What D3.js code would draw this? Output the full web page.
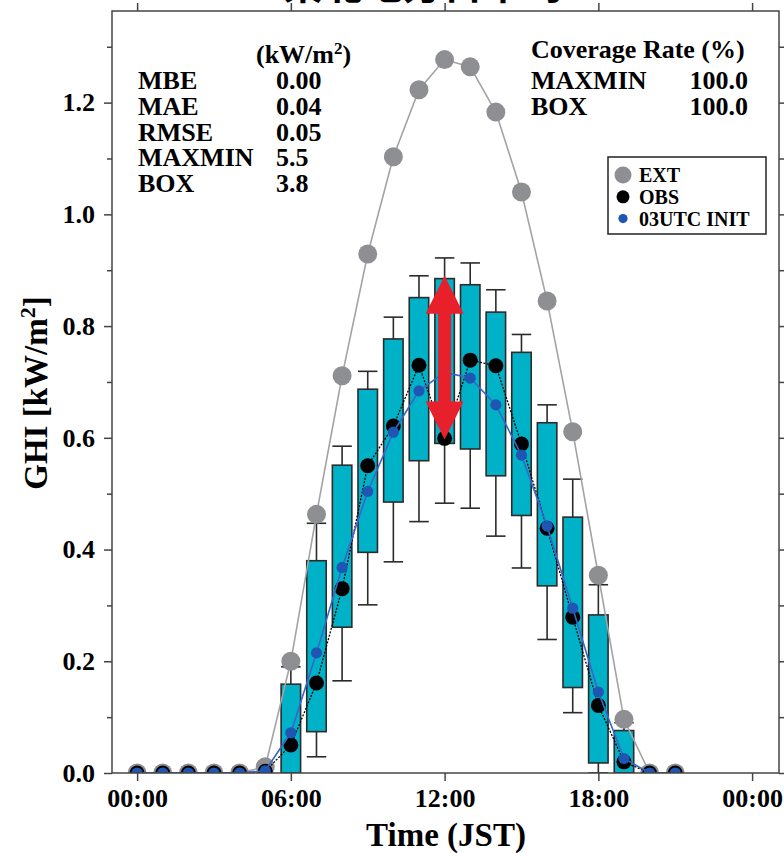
<!DOCTYPE html>
<html>
<head>
<meta charset="utf-8">
<script src="https://cdn.jsdelivr.net/npm/d3@7"></script>
<style>
  html, body { margin: 0; padding: 0; background: #fff; }
  svg { display: block; }
  text { font-family: "Liberation Serif", "Times New Roman", serif; font-weight: bold; fill: #000; }
</style>
</head>
<body>
<svg id="chart" width="784" height="853"></svg>
<script>
// Hourly GHI (kW/m^2), JST
const hours = [0,1,2,3,4,5,6,7,8,9,10,11,12,13,14,15,16,17,18,19,20,21];
const extValues  = [0,0,0,0,0,0.011,0.200,0.463,0.711,0.929,1.103,1.223,1.277,1.264,1.183,1.040,0.845,0.611,0.354,0.096,0,0];
const obsValues  = [0,0,0,0,0,0.003,0.050,0.161,0.330,0.550,0.621,0.730,0.599,0.739,0.729,0.589,0.438,0.279,0.121,0.020,0,0];
const initValues = [0,0,0,0,0,0.004,0.072,0.215,0.368,0.504,0.610,0.684,0.717,0.707,0.659,0.569,0.442,0.295,0.145,0.026,0,0];

// Ensemble spread per hour: whisker low, box low, box high, whisker high
const boxHours = [6,7,8,9,10,11,12,13,14,15,16,17,18,19];
const whiskerLow  = [0,     0.029, 0.165, 0.301, 0.378, 0.450, 0.483, 0.474, 0.424, 0.367, 0.239, 0.108, 0,     0];
const boxLow      = [0,     0.074, 0.261, 0.395, 0.485, 0.559, 0.590, 0.580, 0.532, 0.461, 0.335, 0.153, 0.018, 0];
const boxHigh     = [0.159, 0.380, 0.551, 0.687, 0.777, 0.851, 0.885, 0.874, 0.825, 0.753, 0.627, 0.458, 0.283, 0.076];
const whiskerHigh = [0.190, 0.447, 0.585, 0.719, 0.816, 0.890, 0.922, 0.913, 0.865, 0.785, 0.659, 0.526, 0.337, 0.090];

// Highlighted spread at noon
const arrowHour = 12;
const arrowTop = 0.890;
const arrowBottom = 0.597;

const xTickValues = [0, 6, 12, 18, 24];
const xTickLabels = ["00:00", "06:00", "12:00", "18:00", "00:00"];
const yTickValues = [0, 0.2, 0.4, 0.6, 0.8, 1.0, 1.2];
const yMinorValues = [0.1, 0.3, 0.5, 0.7, 0.9, 1.1, 1.3];

const statLabels = ["MBE", "MAE", "RMSE", "MAXMIN", "BOX"];
const statValues = ["0.00", "0.04", "0.05", "5.5", "3.8"];
const coverageLabels = ["MAXMIN", "BOX"];
const coverageValues = ["100.0", "100.0"];
const legendLabels = ["EXT", "OBS", "03UTC INIT"];

const titleText = "東北地方日平均";

// ---- layout ----
const svg = d3.select("#chart");
const L = 112, R = 779, T = 11, B = 773;

const x = d3.scaleLinear().domain([-0.98, 25.05]).range([L, R]);
const y = d3.scaleLinear().domain([0, 1.364]).range([B, T]);

const colors = {
  ext: "#8e8f93", extLine: "#a3a3a6",
  obs: "#000000",
  init: "#1f56b4", initLine: "#3a66c8",
  box: "#00b2c7", boxStroke: "#2b2b2b",
  arrow: "#e8202b", axis: "#444"
};

// title (runs above the frame)
svg.append("text")
  .attr("x", 423).attr("y", -1)
  .attr("text-anchor", "middle")
  .style("font-family", "'Noto Sans CJK JP', sans-serif")
  .style("font-size", "40px")
  .style("font-weight", "bold")
  .text(titleText);

svg.append("defs").append("clipPath").attr("id", "plot-clip")
  .append("rect").attr("x", L).attr("y", T).attr("width", R - L).attr("height", B - T);

const plot = svg.append("g").attr("clip-path", "url(#plot-clip)");

// ---- box plots ----
const halfW = 0.38;
const boxes = boxHours.map((h, i) => ({
  h, wl: whiskerLow[i], q1: boxLow[i], q3: boxHigh[i], wh: whiskerHigh[i]
}));

const bg = plot.append("g");
boxes.forEach(d => {
  const cx = x(d.h), x0 = x(d.h - halfW), x1 = x(d.h + halfW);
  const g = bg.append("g").attr("stroke", colors.boxStroke).attr("stroke-width", 1.6);
  g.append("line").attr("x1", cx).attr("x2", cx).attr("y1", y(d.wh)).attr("y2", y(d.q3));
  g.append("line").attr("x1", cx).attr("x2", cx).attr("y1", y(d.q1)).attr("y2", y(d.wl));
  g.append("line").attr("x1", x0).attr("x2", x1).attr("y1", y(d.wh)).attr("y2", y(d.wh));
  g.append("line").attr("x1", x0).attr("x2", x1).attr("y1", y(d.wl)).attr("y2", y(d.wl));
  g.append("rect").attr("x", x0).attr("y", y(d.q3))
    .attr("width", x1 - x0).attr("height", y(d.q1) - y(d.q3))
    .attr("fill", colors.box);
});

// ---- series ----
const line = d3.line().x(d => x(d[0])).y(d => y(d[1]));
const pts = vals => hours.map((h, i) => [h, vals[i]]);

function series(vals, lineColor, width, dash, dotColor, r) {
  const g = plot.append("g");
  g.append("path").attr("d", line(pts(vals)))
    .attr("fill", "none").attr("stroke", lineColor)
    .attr("stroke-width", width).attr("stroke-dasharray", dash);
  g.selectAll("circle").data(pts(vals)).join("circle")
    .attr("cx", d => x(d[0])).attr("cy", d => y(d[1]))
    .attr("r", r).attr("fill", dotColor);
}

series(extValues, colors.extLine, 1.6, null, colors.ext, 9.5);
series(obsValues, colors.obs, 1.3, "2,1.5", colors.obs, 7.5);
series(initValues, colors.initLine, 1.6, null, colors.init, 5.6);

// ---- double-headed arrow ----
{
  const cx = x(arrowHour);
  const yt = y(arrowTop), yb = y(arrowBottom);
  const head = 38, hw = 19, sw = 6.5;
  const p = d3.path();
  p.moveTo(cx, yt);
  p.lineTo(cx + hw, yt + head);
  p.lineTo(cx + sw, yt + head);
  p.lineTo(cx + sw, yb - head);
  p.lineTo(cx + hw, yb - head);
  p.lineTo(cx, yb);
  p.lineTo(cx - hw, yb - head);
  p.lineTo(cx - sw, yb - head);
  p.lineTo(cx - sw, yt + head);
  p.lineTo(cx - hw, yt + head);
  p.closePath();
  plot.append("path").attr("d", p.toString()).attr("fill", colors.arrow);
}

// ---- axes & frame ----
function styleAxis(g) {
  g.select(".domain").remove();
  g.selectAll(".tick line").attr("stroke", colors.axis).attr("stroke-width", 1.5);
  g.selectAll("text").attr("fill", "#000");
}

svg.append("g").attr("transform", `translate(${L},0)`)
  .call(d3.axisLeft(y).tickValues(yTickValues).tickSize(8).tickPadding(9).tickFormat(d3.format(".1f")))
  .call(styleAxis)
  .call(g => g.selectAll("text").style("font-size", "26px").style("font-family", "'Liberation Serif', serif").style("font-weight", "bold"));
svg.append("g").attr("transform", `translate(${L},0)`)
  .call(d3.axisLeft(y).tickValues(yMinorValues).tickSize(5).tickFormat(""))
  .call(styleAxis);
svg.append("g").attr("transform", `translate(${R},0)`)
  .call(d3.axisRight(y).tickValues(yTickValues).tickSize(8).tickFormat(""))
  .call(styleAxis);
svg.append("g").attr("transform", `translate(${R},0)`)
  .call(d3.axisRight(y).tickValues(yMinorValues).tickSize(5).tickFormat(""))
  .call(styleAxis);
svg.append("g").attr("transform", `translate(0,${B})`)
  .call(d3.axisBottom(x).tickValues(xTickValues).tickSize(8).tickPadding(8)
    .tickFormat((d, i) => xTickLabels[i]))
  .call(styleAxis)
  .call(g => g.selectAll("text").style("font-size", "26px").style("font-family", "'Liberation Serif', serif").style("font-weight", "bold"));
svg.append("g").attr("transform", `translate(0,${T})`)
  .call(d3.axisTop(x).tickValues(xTickValues).tickSize(8).tickFormat(""))
  .call(styleAxis);

svg.append("rect").attr("x", L).attr("y", T).attr("width", R - L).attr("height", B - T)
  .attr("fill", "none").attr("stroke", colors.axis).attr("stroke-width", 1.5);

// axis titles
svg.append("text").attr("x", 446).attr("y", 846).attr("text-anchor", "middle")
  .style("font-size", "33px").text("Time (JST)");

const yTitle = svg.append("text")
  .attr("transform", "translate(47,393) rotate(-90)")
  .attr("text-anchor", "middle")
  .style("font-size", "33px");
yTitle.append("tspan").text("GHI [kW/m");
yTitle.append("tspan").attr("dy", -12).style("font-size", "22px").text("2");
yTitle.append("tspan").attr("dy", 12).text("]");

// ---- statistics block ----
const unit = svg.append("text").attr("x", 256).attr("y", 63).style("font-size", "26px");
unit.append("tspan").text("(kW/m");
unit.append("tspan").attr("dy", -9).style("font-size", "17px").text("2");
unit.append("tspan").attr("dy", 9).text(")");

statLabels.forEach((s, i) => {
  const yy = 89 + i * 25.8;
  svg.append("text").attr("x", 138).attr("y", yy).style("font-size", "26px").text(s);
  svg.append("text").attr("x", 276).attr("y", yy).style("font-size", "26px").text(statValues[i]);
});

svg.append("text").attr("x", 531).attr("y", 58).style("font-size", "26px").text("Coverage Rate (%)");
coverageLabels.forEach((s, i) => {
  const yy = 89 + i * 25.8;
  svg.append("text").attr("x", 531).attr("y", yy).style("font-size", "26px").text(s);
  svg.append("text").attr("x", 748).attr("y", yy).attr("text-anchor", "end").style("font-size", "26px").text(coverageValues[i]);
});

// ---- legend ----
const lg = svg.append("g");
lg.append("rect").attr("x", 608).attr("y", 157).attr("width", 158).attr("height", 77)
  .attr("fill", "#fff").attr("stroke", "#222").attr("stroke-width", 1.5);
const legendDots = [
  { c: colors.ext, r: 8.5 },
  { c: colors.obs, r: 6.5 },
  { c: colors.init, r: 4.6 }
];
legendLabels.forEach((s, i) => {
  const cy = 175 + i * 21.8;
  lg.append("circle").attr("cx", 623).attr("cy", cy).attr("r", legendDots[i].r).attr("fill", legendDots[i].c);
  lg.append("text").attr("x", 639).attr("y", cy + 7).style("font-size", "20px").text(s);
});
</script>
</body>
</html>
